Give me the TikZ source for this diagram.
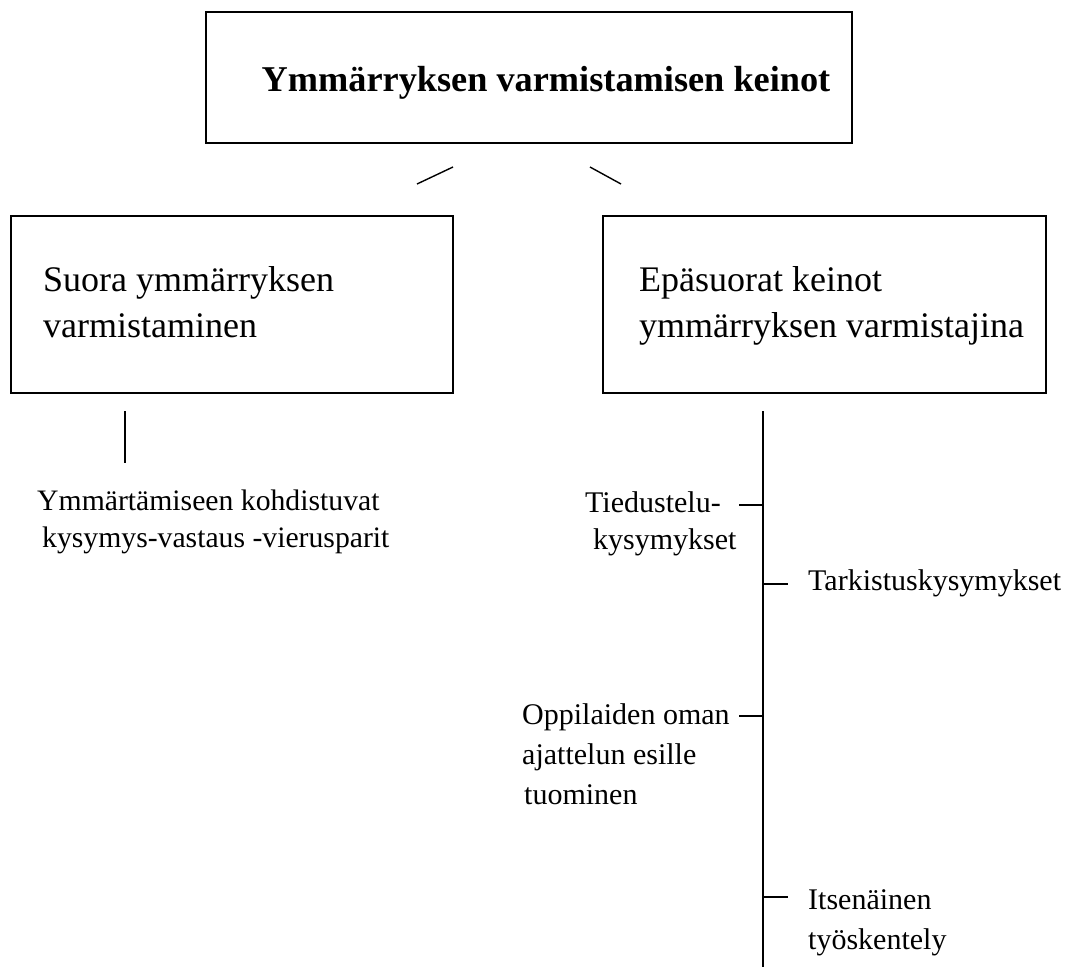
\documentclass[tikz,border=0pt]{standalone}
\usepackage{fontspec}
\setmainfont{Liberation Serif}
\begin{document}
\begin{tikzpicture}[x=1pt,y=-1pt,
  box/.style={draw, line width=1.8pt, rectangle, inner sep=0pt},
  conn/.style={line width=1.4pt},
  boxtext/.style={font=\fontsize{36}{46}\selectfont, align=left, inner sep=0pt, anchor=base west},
  smalltext/.style={font=\fontsize{30}{40}\selectfont, align=left, inner sep=0pt, anchor=base west}]
\useasboundingbox (0,0) rectangle (1069,967);
% boxes
\node[box, minimum width=646pt, minimum height=131pt] (top) at (529,77.5) {};
\node[box, minimum width=442pt, minimum height=177pt] (left) at (232,304.5) {};
\node[box, minimum width=443pt, minimum height=177pt] (right) at (824.5,304.5) {};
% box texts
\node[font=\fontsize{36.3}{40}\selectfont\bfseries, anchor=base, inner sep=0pt] (title) at (546,91) {Ymmärryksen varmistamisen keinot};
\node[boxtext] (lefttext) at (43,337) {Suora ymmärryksen\\varmistaminen};
\node[boxtext] (righttext) at (639,337) {Epäsuorat keinot\\ymmärryksen varmistajina};
% diagonal connectors
\coordinate (d1a) at (417,184);
\coordinate (d1b) at (453,167);
\coordinate (d2a) at (590,167);
\coordinate (d2b) at (621,184);
\draw[conn] (d1a) -- (d1b);
\draw[conn] (d2a) -- (d2b);
% left branch
\coordinate (ls1) at (125,411);
\coordinate (ls2) at (125,463);
\draw[conn] (ls1) -- (ls2);
\node[smalltext, font=\fontsize{29.7}{37}\selectfont] (qa) at (37,547) {Ymmärtämiseen kohdistuvat\\\hspace*{5pt}kysymys-vastaus -vierusparit};
% right branch
\coordinate (rs1) at (763,411);
\coordinate (rs2) at (763,967);
\draw[conn] (rs1) -- (rs2);
\coordinate (t1s) at (763,505); \coordinate (t1e) at (739,505);
\coordinate (t2s) at (763,584); \coordinate (t2e) at (788,584);
\coordinate (t3s) at (763,716); \coordinate (t3e) at (739,716);
\coordinate (t4s) at (763,897); \coordinate (t4e) at (788,897);
\draw[conn] (t1s) -- (t1e);
\draw[conn] (t2s) -- (t2e);
\draw[conn] (t3s) -- (t3e);
\draw[conn] (t4s) -- (t4e);
\node[smalltext, font=\fontsize{30}{37}\selectfont] (tied) at (585,549) {Tiedustelu-\\\hspace*{8pt}kysymykset};
\node[smalltext] (tark) at (808,590.5) {Tarkistuskysymykset};
\node[smalltext] (oppi) at (522,804.6) {Oppilaiden oman\\ajattelun esille\\\hspace*{2pt}tuominen};
\node[smalltext] (itse) at (808,949.7) {Itsenäinen\\työskentely};
\end{tikzpicture}
\end{document}
